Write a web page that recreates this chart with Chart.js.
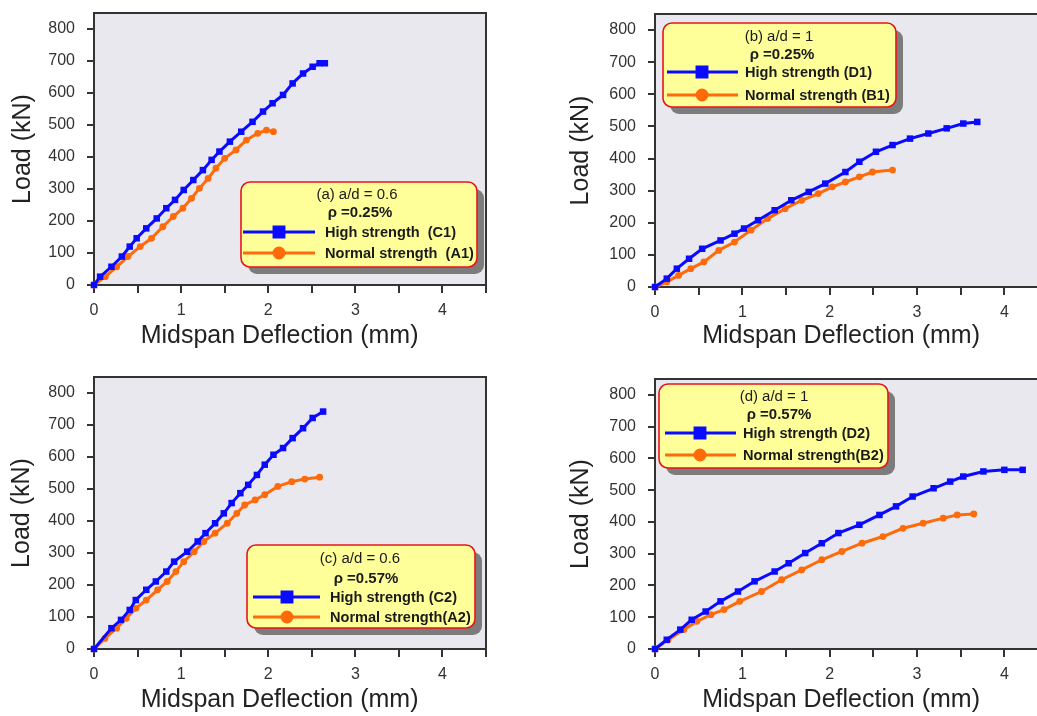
<!DOCTYPE html>
<html><head><meta charset="utf-8">
<script src="https://cdn.jsdelivr.net/npm/chart.js@4.4.1/dist/chart.umd.min.js"></script>
<style>
html,body{margin:0;padding:0;background:#fff;overflow:hidden;width:1037px;height:716px;}
canvas{position:absolute;}
</style></head><body>
<canvas id="ca" width="518" height="360" style="left:0;top:0"></canvas>
<canvas id="cb" width="540" height="360" style="left:518px;top:0"></canvas>
<canvas id="cc" width="518" height="356" style="left:0;top:360px"></canvas>
<canvas id="cd" width="540" height="356" style="left:518px;top:360px"></canvas>
<script>
// ---- data (deflection in mm, load in kN) ----
const A_hs_x = [0,0.07,0.2,0.32,0.41,0.49,0.6,0.72,0.83,0.93,1.03,1.14,1.25,1.35,1.44,1.56,1.69,1.82,1.94,2.05,2.17,2.28,2.4,2.51,2.59,2.65];
const A_hs_y = [0,26,57,89,120,146,177,208,240,266,297,328,359,391,417,448,479,510,542,568,594,630,661,682,693,693];
const A_ns_x = [0,0.13,0.26,0.39,0.53,0.66,0.79,0.91,1.02,1.12,1.21,1.31,1.4,1.5,1.63,1.75,1.88,1.98,2.06];
const A_ns_y = [0,26,57,89,120,146,182,214,240,271,302,333,365,396,422,453,474,484,479];

const B_hs_x = [0,0.135,0.25,0.39,0.54,0.75,0.91,1.02,1.18,1.37,1.56,1.76,1.95,2.18,2.34,2.53,2.72,2.92,3.13,3.34,3.53,3.69];
const B_hs_y = [0,26,57,88,119,145,166,182,208,239,270,296,322,358,390,421,442,462,478,494,509,514];
const B_ns_x = [0,0.135,0.27,0.41,0.56,0.73,0.91,1.1,1.29,1.49,1.68,1.87,2.03,2.18,2.34,2.49,2.72];
const B_ns_y = [0,16,36,57,78,114,140,177,213,244,270,291,312,327,343,358,364];

const C_hs_x = [0,0.2,0.31,0.41,0.48,0.6,0.71,0.83,0.92,1.07,1.19,1.28,1.39,1.49,1.58,1.68,1.77,1.87,1.96,2.06,2.17,2.28,2.4,2.51,2.63];
const C_hs_y = [0,65,91,122,153,185,211,242,273,304,336,362,393,424,456,487,513,544,576,607,628,659,690,722,742];
const C_ns_x = [0,0.125,0.26,0.37,0.48,0.6,0.73,0.84,0.94,1.03,1.15,1.26,1.39,1.53,1.64,1.73,1.85,1.96,2.11,2.27,2.42,2.59];
const C_ns_y = [0,33,65,96,127,153,185,211,242,273,304,336,362,393,424,450,466,482,508,523,531,537];

const D_hs_x = [0,0.135,0.29,0.42,0.58,0.75,0.95,1.14,1.37,1.53,1.72,1.91,2.1,2.34,2.57,2.76,2.95,3.19,3.38,3.53,3.76,4.0,4.21];
const D_hs_y = [0,29,61,92,118,150,181,213,244,270,302,333,365,391,422,449,480,506,527,543,559,564,564];
const D_ns_x = [0,0.15,0.33,0.48,0.64,0.79,0.97,1.22,1.45,1.68,1.91,2.14,2.37,2.61,2.84,3.07,3.3,3.46,3.65];
const D_ns_y = [0,29,61,87,108,124,150,181,218,249,281,307,333,354,380,396,412,422,425];

const xTickValues = [0,1,2,3,4];
const yTickValues = [0,100,200,300,400,500,600,700,800];

const titlesA = ['(a) a/d = 0.6', 'ρ =0.25%'];
const titlesB = ['(b) a/d = 1', 'ρ =0.25%'];
const titlesC = ['(c) a/d = 0.6', 'ρ =0.57%'];
const titlesD = ['(d) a/d = 1', 'ρ =0.57%'];
const labelsA = ['High strength  (C1)', 'Normal strength  (A1)'];
const labelsB = ['High strength (D1)', 'Normal strength (B1)'];
const labelsC = ['High strength (C2)', 'Normal strength(A2)'];
const labelsD = ['High strength (D2)', 'Normal strength(B2)'];

const xTitle = 'Midspan Deflection (mm)';
const yTitle = 'Load (kN)';

// ---- styling ----
const FAM = '"Liberation Sans", Arial, sans-serif';
const BLUE = '#0a0aff', ORANGE = '#ff6a0a';

const pts = (xs, ys) => xs.map((x, i) => ({x, y: ys[i]}));

const plotFrame = {
  id: 'plotFrame',
  beforeDraw(chart) {
    const {ctx, chartArea: a} = chart;
    ctx.save();
    ctx.fillStyle = '#e9e8ef';
    ctx.fillRect(a.left, a.top, a.right - a.left, a.bottom - a.top);
    ctx.restore();
  },
  beforeDatasetsDraw(chart) {
    const {ctx, chartArea: a} = chart;
    ctx.save();
    ctx.strokeStyle = '#333';
    ctx.lineWidth = 2;
    ctx.beginPath();
    ctx.moveTo(a.left - 1, a.top);
    ctx.lineTo(a.right, a.top);
    ctx.lineTo(a.right, a.bottom);
    ctx.stroke();
    ctx.restore();
  }
};

function stretchText(ctx, text, x, y, sx) {
  ctx.save();
  ctx.translate(x, y);
  ctx.scale(sx, 1);
  ctx.fillText(text, 0, 0);
  ctx.restore();
}

function makeLegend(cfg) {
  return {
    id: 'boxLegend',
    afterDraw(chart) {
      const ctx = chart.ctx;
      const [x, y, w, h] = cfg.box;
      ctx.save();
      ctx.fillStyle = '#7c7c7c';
      ctx.beginPath(); ctx.roundRect(x + 7, y + 7, w, h, 9); ctx.fill();
      ctx.fillStyle = '#ffff99';
      ctx.strokeStyle = '#e6141b';
      ctx.lineWidth = 1.6;
      ctx.beginPath(); ctx.roundRect(x, y, w, h, 9); ctx.fill(); ctx.stroke();
      ctx.fillStyle = '#1a1a1a';
      ctx.textAlign = 'center';
      ctx.textBaseline = 'middle';
      cfg.titles.forEach((t, i) => {
        ctx.font = (i === 1 ? 'bold ' : '') + '14px ' + FAM;
        stretchText(ctx, t, cfg.tx[i], cfg.ty[i], 1.07);
      });
      chart.data.datasets.forEach((ds, i) => {
        const ry = cfg.rows[i];
        ctx.strokeStyle = ds.borderColor;
        ctx.lineWidth = 3;
        ctx.beginPath(); ctx.moveTo(cfg.sx[0], ry); ctx.lineTo(cfg.sx[1], ry); ctx.stroke();
        ctx.fillStyle = ds.backgroundColor;
        Chart.helpers.drawPoint(ctx, {pointStyle: ds.pointStyle, radius: ds.pointStyle === 'rect' ? 7 : 5, rotation: 0, borderWidth: 1}, cfg.mx, ry);
        ctx.fillStyle = '#1a1a1a';
        ctx.textAlign = 'left';
        ctx.font = 'bold 14px ' + FAM;
        stretchText(ctx, ds.label, cfg.lx, ry + 1, 1.04);
      });
      ctx.restore();
    }
  };
}

function makeChart(id, L, hs, ns, labels, legendCfg) {
  const tickFont = {family: FAM, size: 16};
  const titleFont = {family: FAM, size: 25};
  return new Chart(document.getElementById(id), {
    type: 'line',
    data: {
      datasets: [
        {label: labels[0], data: hs, borderColor: BLUE, backgroundColor: BLUE, borderWidth: 3,
         pointStyle: 'rect', pointRadius: 4.6, pointBorderWidth: 0, tension: 0, clip: 8},
        {label: labels[1], data: ns, borderColor: ORANGE, backgroundColor: ORANGE, borderWidth: 3,
         pointStyle: 'circle', pointRadius: 3.4, pointBorderWidth: 0, tension: 0, clip: 8}
      ]
    },
    options: {
      responsive: false,
      animation: false,
      events: [],
      layout: {padding: {left: 0, top: L.T, right: L.W - L.R, bottom: 0}},
      plugins: {legend: {display: false}, tooltip: {enabled: false}},
      scales: {
        x: {
          type: 'linear', min: 0, max: 4.5,
          ticks: {stepSize: 0.5, autoSkip: false, maxRotation: 0, padding: 8, color: '#333', font: tickFont,
                  callback: v => xTickValues.includes(Math.round(v * 1000) / 1000) ? String(v) : ''},
          grid: {drawOnChartArea: false, drawTicks: true, tickLength: 8, color: '#333', lineWidth: 2},
          border: {display: true, color: '#333', width: 2},
          title: {display: true, text: xTitle + '\u00a0\u00a0\u00a0', color: '#222', font: titleFont,
                  padding: {top: 0, bottom: L.xpb}},
          afterFit: s => { s.height = L.H - L.B; s.paddingLeft = 0; s.paddingRight = 0; }
        },
        y: {
          type: 'linear', min: 0, max: 850,
          afterBuildTicks: s => { s.ticks = yTickValues.map(v => ({value: v})); },
          ticks: {padding: 12, color: '#333', font: tickFont, callback: v => String(v)},
          grid: {drawOnChartArea: false, drawTicks: true, tickLength: 7, color: '#333', lineWidth: 2},
          border: {display: true, color: '#333', width: 2},
          title: {display: true, text: yTitle, color: '#222', font: titleFont, padding: {top: L.ypt, bottom: 0}},
          afterFit: s => { s.width = L.L; s.paddingTop = 0; s.paddingBottom = 0; }
        }
      }
    },
    plugins: [plotFrame, makeLegend(legendCfg)]
  });
}

makeChart('ca', {W: 518, H: 360, L: 94, T: 13, R: 486, B: 285, xpb: 9, ypt: 8},
  pts(A_hs_x, A_hs_y), pts(A_ns_x, A_ns_y), labelsA,
  {box: [241, 182, 236, 85], titles: titlesA, tx: [357, 360], ty: [195, 213], rows: [232, 253], sx: [243, 315], mx: 279, lx: 325});

makeChart('cb', {W: 540, H: 360, L: 137, T: 14, R: 530, B: 287, xpb: 9, ypt: 48},
  pts(B_hs_x, B_hs_y), pts(B_ns_x, B_ns_y), labelsB,
  {box: [145, 23, 233, 84], titles: titlesB, tx: [261, 264], ty: [37, 55], rows: [72, 95], sx: [149, 220], mx: 184, lx: 227});

makeChart('cc', {W: 518, H: 356, L: 94, T: 17, R: 486, B: 289, xpb: 1, ypt: 7},
  pts(C_hs_x, C_hs_y), pts(C_ns_x, C_ns_y), labelsC,
  {box: [247, 185, 228, 83], titles: titlesC, tx: [360, 366], ty: [199, 219], rows: [237, 257], sx: [253, 320], mx: 287, lx: 330});

makeChart('cd', {W: 540, H: 356, L: 137, T: 19, R: 530, B: 289, xpb: 1, ypt: 48},
  pts(D_hs_x, D_hs_y), pts(D_ns_x, D_ns_y), labelsD,
  {box: [141, 24, 229, 84], titles: titlesD, tx: [256, 261], ty: [37, 55], rows: [73, 95], sx: [147, 218], mx: 182, lx: 225});
</script>
</body></html>
